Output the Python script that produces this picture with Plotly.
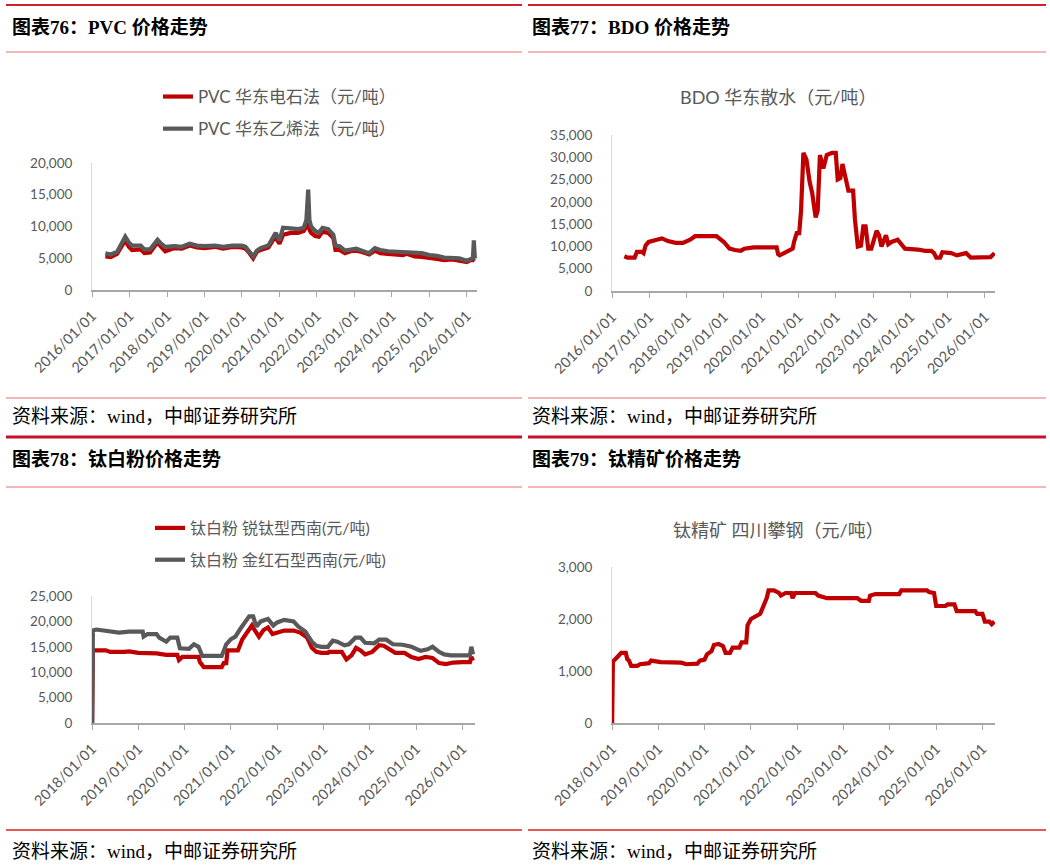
import plotly.graph_objects as go

W, H = 1050, 865
RED = "#C00000"
GREY = "#595959"
TXT = "#595959"
SANS = "Lato, Noto Sans CJK SC, sans-serif"
SERIF = "Liberation Serif, Noto Sans CJK SC, serif"

# ---------------- data ----------------
pvc_dates = ["2016-05-10", "2016-07-01", "2016-09-01", "2016-10-05", "2016-11-20", "2016-12-25",
             "2017-01-25", "2017-04-20", "2017-05-25", "2017-07-20", "2017-09-10", "2017-10-01",
             "2017-11-05", "2017-12-15", "2018-03-15", "2018-05-25", "2018-08-10", "2018-10-20",
             "2019-01-01", "2019-04-15", "2019-07-01", "2019-10-01", "2020-01-01", "2020-02-05",
             "2020-03-15", "2020-04-20", "2020-05-25", "2020-07-01", "2020-09-15", "2020-11-05",
             "2020-11-25", "2021-01-01", "2021-02-05", "2021-04-20", "2021-07-01", "2021-08-25",
             "2021-09-20", "2021-10-08", "2021-10-20", "2021-11-05", "2021-12-15", "2022-01-20",
             "2022-02-25", "2022-04-20", "2022-06-10", "2022-07-01", "2022-08-10", "2022-10-01",
             "2022-11-25", "2023-01-20", "2023-03-15", "2023-05-25", "2023-07-20", "2023-09-10",
             "2023-11-25", "2024-02-05", "2024-04-20", "2024-05-25", "2024-08-10", "2024-10-20",
             "2025-01-01", "2025-03-15", "2025-05-25", "2025-08-10", "2025-10-20", "2026-01-01",
             "2026-02-05", "2026-03-01", "2026-03-10", "2026-03-20"]
pvc_carbide = [5300, 5200, 5700, 6500, 7800, 6800,
               6300, 6400, 5800, 5900, 7000, 7500,
               6800, 6100, 6600, 6500, 7000, 6700,
               6600, 6800, 6500, 6800, 6700, 6500,
               5800, 5000, 6000, 6300, 6700, 8000,
               8200, 7300, 8700, 9000, 9000, 9300,
               10000, 10800, 9500, 9000, 8500, 8400,
               9200, 9000, 8200, 6300, 6300, 5800,
               6100, 6200, 6000, 5600, 6200, 5800,
               5700, 5600, 5500, 5700, 5300, 5200,
               5100, 4900, 4700, 4800, 4600, 4400,
               4700, 4800, 4700, 4600]
pvc_ethylene = [5800, 5600, 6000, 7000, 8400, 7500,
                7000, 7000, 6400, 6400, 7500, 7900,
                7300, 6800, 6900, 6800, 7300, 7000,
                6900, 7000, 6800, 7000, 7000, 6800,
                6000, 5300, 6200, 6600, 7000, 8500,
                9000, 7800, 9800, 9700, 9600, 9800,
                11000, 15800, 11000, 10000, 9300, 9000,
                9800, 9600, 8700, 7000, 6900, 6200,
                6400, 6500, 6200, 5800, 6600, 6300,
                6100, 6000, 5900, 6000, 5900, 5800,
                5500, 5400, 5100, 5100, 5000, 4600,
                4900, 5000, 7800, 5000]

bdo_dates = ["2016-05-01", "2016-06-01", "2016-08-10", "2016-09-01", "2016-10-20", "2016-11-05",
             "2016-11-25", "2016-12-25", "2017-03-15", "2017-05-05", "2017-07-01", "2017-09-15",
             "2017-11-25", "2018-02-05", "2018-03-25", "2018-10-20", "2019-01-01", "2019-02-25",
             "2019-04-20", "2019-06-15", "2019-07-20", "2019-10-20", "2020-06-01", "2020-06-15",
             "2020-07-01", "2020-09-15", "2020-11-05", "2020-11-18", "2020-12-15", "2021-01-08",
             "2021-01-26", "2021-02-18", "2021-03-20", "2021-04-20", "2021-05-15", "2021-06-18",
             "2021-07-08", "2021-07-30", "2021-09-01", "2021-10-05", "2021-11-25", "2022-01-01",
             "2022-01-20", "2022-02-15", "2022-03-08", "2022-04-01", "2022-05-05", "2022-06-20",
             "2022-07-08", "2022-08-05", "2022-09-05", "2022-09-28", "2022-10-20", "2022-11-15",
             "2022-12-15", "2023-02-05", "2023-03-01", "2023-03-25", "2023-04-20", "2023-05-08",
             "2023-05-30", "2023-07-01", "2023-08-30", "2023-10-20", "2023-11-10", "2024-03-15",
             "2024-05-25", "2024-07-25", "2024-08-20", "2024-09-12", "2024-10-20", "2024-11-10",
             "2025-02-05", "2025-04-01", "2025-06-12", "2025-07-01", "2025-08-15", "2025-10-20",
             "2026-02-25", "2026-03-15", "2026-04-05"]
bdo_values = [7800, 7500, 7500, 8800, 8800, 8500,
              10200, 11000, 11500, 11800, 11200, 10800,
              10800, 11500, 12300, 12300, 11000, 9500,
              9200, 9000, 9500, 9800, 9800, 8300,
              8000, 8800, 9500, 11000, 13000, 13000,
              18000, 31000, 29500, 24500, 22000, 16500,
              18000, 30500, 27500, 30500, 31000, 31000,
              25000, 25300, 28500, 26000, 22500, 22500,
              16000, 10000, 10200, 14500, 14500, 9500,
              9500, 13500, 12500, 10000, 11500, 12500,
              10500, 11000, 11500, 10000, 9500, 9300,
              9000, 9000, 8500, 7500, 7500, 8700,
              8500, 8000, 8300, 8500, 7500, 7500,
              7600, 8000, 8500]

rut_dates = ["2018-01-02", "2018-01-08", "2018-02-05", "2018-05-10", "2018-08-01", "2018-10-20",
             "2019-02-05", "2019-02-12", "2019-03-15", "2019-05-25", "2019-06-15", "2019-08-10",
             "2019-09-10", "2019-11-05", "2019-11-25", "2020-02-05", "2020-03-15", "2020-04-20",
             "2020-05-20", "2020-10-20", "2020-11-25", "2021-01-01", "2021-02-05", "2021-03-15",
             "2021-04-20", "2021-05-25", "2021-06-25", "2021-07-20", "2021-08-25", "2021-10-20",
             "2021-12-01", "2022-01-01", "2022-02-25", "2022-05-10", "2022-06-15", "2022-08-10",
             "2022-10-01", "2022-11-05", "2022-12-15", "2023-02-05", "2023-03-15", "2023-04-20",
             "2023-06-15", "2023-07-20", "2023-09-10", "2023-10-20", "2023-11-25", "2024-02-05",
             "2024-03-15", "2024-05-10", "2024-07-01", "2024-09-15", "2024-11-25", "2025-01-01",
             "2025-02-05", "2025-04-01", "2025-05-10", "2025-07-01", "2025-08-10", "2025-10-01",
             "2025-11-25", "2026-01-01", "2026-03-01", "2026-03-12", "2026-03-25"]
rut_values = [0, 18200, 18400, 18000, 17800, 18000,
              18000, 17000, 17500, 17500, 16800, 16000,
              16800, 16800, 14700, 14600, 15500, 15000,
              13200, 13200, 15500, 16500, 17000, 18500,
              19800, 21000, 21000, 19000, 20000, 20500,
              19200, 19800, 20300, 20000, 19000, 18000,
              16000, 15200, 15000, 15000, 16200, 16000,
              15300, 15500, 16800, 16800, 15800, 15700,
              16400, 16400, 15500, 15400, 15000, 14500,
              14200, 14500, 15000, 14000, 13500, 13300,
              13300, 13300, 13300, 15000, 13500]

ana_dates = ["2018-01-02", "2018-01-08", "2018-04-20", "2018-05-25", "2018-09-15", "2018-10-20",
             "2019-01-01", "2019-05-25", "2019-08-10", "2019-11-05", "2019-11-18", "2019-12-15",
             "2020-04-20", "2020-05-01", "2020-06-01", "2020-10-20", "2020-11-05", "2020-11-25",
             "2020-12-05", "2021-02-25", "2021-04-01", "2021-05-10", "2021-06-15", "2021-07-01",
             "2021-08-10", "2021-09-15", "2021-10-20", "2021-11-25", "2022-01-01", "2022-02-25",
             "2022-05-10", "2022-07-01", "2022-08-25", "2022-10-01", "2022-11-05", "2022-12-15",
             "2023-02-05", "2023-02-12", "2023-05-25", "2023-07-01", "2023-08-10", "2023-09-15",
             "2023-10-20", "2023-11-25", "2024-01-20", "2024-03-15", "2024-04-20", "2024-06-15",
             "2024-07-20", "2024-10-01", "2024-11-25", "2025-01-20", "2025-03-15", "2025-05-10",
             "2025-07-01", "2025-08-25", "2025-10-20", "2026-01-01", "2026-03-01", "2026-03-12",
             "2026-03-25"]
ana_values = [0, 14300, 14300, 14000, 14000, 14100,
              13800, 13700, 13400, 13400, 12400, 13000,
              13000, 12000, 11000, 11000, 11800, 11800,
              14300, 14300, 16500, 18000, 19200, 18500,
              17000, 18300, 18800, 17500, 17800, 18200,
              18200, 17800, 16800, 14800, 14000, 13800,
              13800, 14000, 14000, 12500, 13300, 14800,
              14300, 13500, 14000, 15300, 15200, 14300,
              13800, 13800, 13000, 12600, 13000, 12800,
              11800, 11600, 11900, 12000, 12000, 13000,
              12300]

tc_dates = ["2018-01-02", "2018-01-08", "2018-02-05", "2018-02-25", "2018-03-15", "2018-04-20",
            "2018-05-01", "2018-05-15", "2018-06-01", "2018-07-20", "2018-08-10", "2018-10-20",
            "2018-11-05", "2019-01-20", "2019-04-20", "2019-05-25", "2019-07-01", "2019-08-10",
            "2019-11-05", "2019-11-25", "2020-01-01", "2020-01-20", "2020-02-25", "2020-03-15",
            "2020-04-20", "2020-05-25", "2020-06-15", "2020-07-20", "2020-08-10", "2020-10-01",
            "2020-10-20", "2020-11-25", "2020-12-05", "2021-01-01", "2021-02-05", "2021-03-15",
            "2021-04-01", "2021-05-05", "2021-05-20", "2021-07-01", "2021-08-10", "2021-08-25",
            "2021-10-01", "2021-11-15", "2021-11-25", "2021-12-15", "2022-05-25", "2022-06-15",
            "2022-08-25", "2023-04-20", "2023-05-20", "2023-07-20", "2023-07-30", "2023-09-10",
            "2024-03-15", "2024-04-01", "2024-10-20", "2024-11-05", "2024-12-15", "2025-01-01",
            "2025-03-15", "2025-04-01", "2025-05-25", "2025-06-12", "2025-11-05", "2025-11-20",
            "2026-01-01", "2026-01-20", "2026-02-25", "2026-03-15", "2026-04-05"]
tc_values = [0, 1180, 1250, 1300, 1350, 1350,
             1230, 1200, 1100, 1100, 1130, 1150,
             1200, 1170, 1170, 1180, 1160, 1130,
             1140, 1200, 1220, 1320, 1380, 1500,
             1520, 1480, 1350, 1350, 1450, 1450,
             1550, 1550, 1880, 2000, 2050, 2100,
             2200, 2400, 2550, 2550, 2500, 2450,
             2500, 2500, 2400, 2500, 2500, 2450,
             2400, 2400, 2350, 2350, 2450, 2480,
             2480, 2550, 2550, 2520, 2500, 2250,
             2250, 2280, 2280, 2150, 2150, 2100,
             2100, 1950, 1950, 1900, 1950]

# ---------------- helpers ----------------
def fx(x):
    return x / W

def fy(y):
    return 1 - y / H

fig = go.Figure()

LW = 4.2
fig.add_trace(go.Scatter(x=pvc_dates, y=pvc_carbide, name="PVC 华东电石法（元/吨）", mode="lines",
                         line=dict(color=RED, width=LW), xaxis="x", yaxis="y",
                         legend="legend", legendgroup="a"))
fig.add_trace(go.Scatter(x=pvc_dates, y=pvc_ethylene, name="PVC 华东乙烯法（元/吨）", mode="lines",
                         line=dict(color=GREY, width=LW), xaxis="x", yaxis="y",
                         legend="legend", legendgroup="b"))
fig.add_trace(go.Scatter(x=bdo_dates, y=bdo_values, name="BDO 华东散水（元/吨）", mode="lines",
                         line=dict(color=RED, width=LW), xaxis="x2", yaxis="y2", showlegend=False))
fig.add_trace(go.Scatter(x=ana_dates, y=ana_values, name="钛白粉 锐钛型西南(元/吨)", mode="lines",
                         line=dict(color=RED, width=LW), xaxis="x3", yaxis="y3",
                         legend="legend2", legendgroup="c"))
fig.add_trace(go.Scatter(x=rut_dates, y=rut_values, name="钛白粉 金红石型西南(元/吨)", mode="lines",
                         line=dict(color=GREY, width=LW), xaxis="x3", yaxis="y3",
                         legend="legend2", legendgroup="d"))
fig.add_trace(go.Scatter(x=tc_dates, y=tc_values, name="钛精矿 四川攀钢（元/吨）", mode="lines",
                         line=dict(color=RED, width=LW), xaxis="x4", yaxis="y4", showlegend=False))

xtickfont = dict(family=SANS, size=14.5, color=TXT)
ytickfont = dict(family=SANS, size=13.5, color=TXT)

def xax(x0, x1, tick0, anchor):
    return dict(domain=[fx(x0), fx(x1)], type="date", range=[tick0, "2026-04-10"],
                tick0=tick0, dtick="M12", tickformat="%Y/%m/%d", tickangle=-45,
                ticks="outside", ticklen=5, tickcolor="#a6a6a6", tickwidth=1,
                ticklabelstandoff=5,
                showline=True, linecolor="#a6a6a6", linewidth=1.5, automargin=False,
                showgrid=False, zeroline=False, tickfont=xtickfont, anchor=anchor)

def yax(y0, y1, top, dtick, anchor):
    return dict(domain=[fy(y0), fy(y1)], range=[0, top], dtick=dtick, tickformat=",",
                showline=True, linecolor="#d9d9d9", linewidth=1, ticks="", automargin=False,
                ticklabelstandoff=16,
                showgrid=False, zeroline=False, tickfont=ytickfont, anchor=anchor)

fig.update_layout(
    width=W, height=H, margin=dict(l=0, r=0, t=0, b=0, autoexpand=False),
    paper_bgcolor="white", plot_bgcolor="white", showlegend=True,
    xaxis=xax(92, 477, "2016-01-01", "y"),
    yaxis=yax(290, 163, 20000, 5000, "x"),
    xaxis2=xax(612, 995, "2016-01-01", "y2"),
    yaxis2=yax(291, 135, 35000, 5000, "x2"),
    xaxis3=xax(92, 475, "2018-01-01", "y3"),
    yaxis3=yax(723, 596, 25000, 5000, "x3"),
    xaxis4=xax(612, 995, "2018-01-01", "y4"),
    yaxis4=yax(723, 567, 3000, 1000, "x4"),
    legend=dict(x=fx(158), y=fy(79), xanchor="left", yanchor="top", bgcolor="rgba(0,0,0,0)",
                font=dict(family=SANS, size=17, color=TXT), tracegroupgap=7, traceorder="grouped"),
    legend2=dict(x=fx(150), y=fy(511), xanchor="left", yanchor="top", bgcolor="rgba(0,0,0,0)",
                 font=dict(family=SANS, size=16, color=TXT), tracegroupgap=8, traceorder="grouped"),
)

# ---------------- frame lines ----------------
shapes = []
def hline(y, x0, x1, color, width):
    shapes.append(dict(type="line", xref="paper", yref="paper", x0=fx(x0), x1=fx(x1),
                       y0=fy(y), y1=fy(y), line=dict(color=color, width=width)))

for (a, b) in [(6, 522), (528, 1046)]:
    hline(5, a, b, "#D0202A", 2)
    hline(52, a, b, "#E57373", 1.2)
    hline(398, a, b, "#E57373", 1.2)
    hline(437, a, b, "#C8102E", 3)
    hline(487, a, b, "#E57373", 1.2)
    hline(830, a, b, "#E02020", 1.5)

annotations = []
def text(x, y, s, size, family, color="black", bold=False, xanchor="left"):
    annotations.append(dict(xref="paper", yref="paper", x=fx(x), y=fy(y), text=("<b>%s</b>" % s) if bold else s,
                            showarrow=False, xanchor=xanchor, yanchor="middle",
                            font=dict(size=size, family=family, color=color)))

text(10, 27, "图表76：PVC 价格走势", 19, SERIF, bold=True)
text(530, 27, "图表77：BDO 价格走势", 19, SERIF, bold=True)
text(10, 459, "图表78：钛白粉价格走势", 19, SERIF, bold=True)
text(530, 459, "图表79：钛精矿价格走势", 19, SERIF, bold=True)
for y in (416, 851):
    text(10, y, "资料来源：wind，中邮证券研究所", 19, SERIF)
    text(530, y, "资料来源：wind，中邮证券研究所", 19, SERIF)
text(778, 97, "BDO 华东散水（元/吨）", 18, SANS, color=TXT, xanchor="center")
text(778, 530, "钛精矿 四川攀钢（元/吨）", 18, SANS, color=TXT, xanchor="center")

fig.update_layout(shapes=shapes, annotations=annotations)
fig.write_html("out.html")
